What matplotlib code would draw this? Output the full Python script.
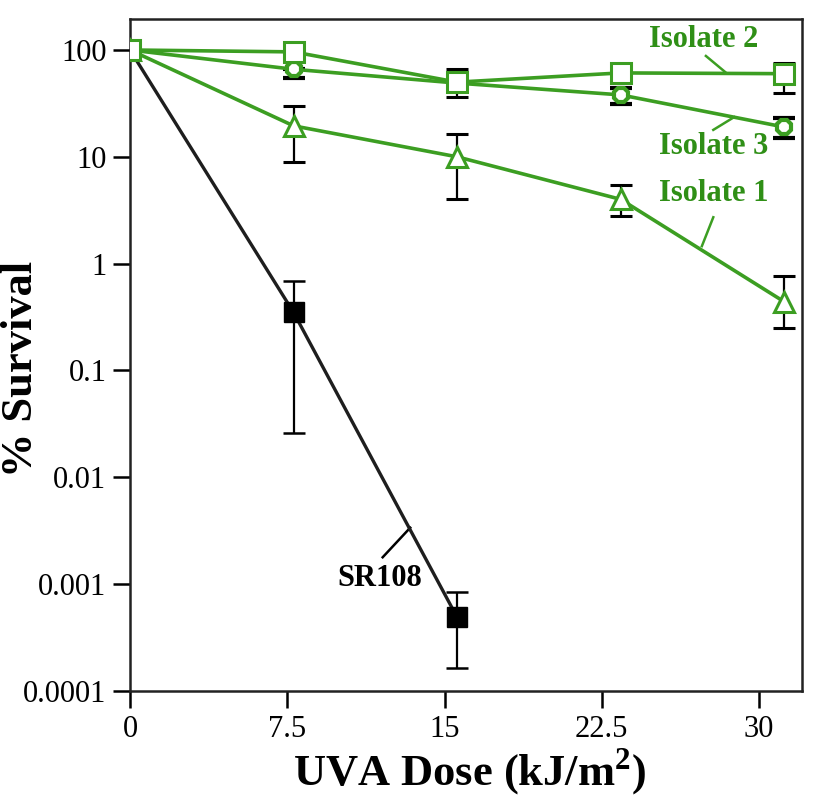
import matplotlib
matplotlib.use("Agg")
import matplotlib.pyplot as plt
from matplotlib.ticker import FixedLocator, FixedFormatter

plt.rcParams["font.family"] = ["Liberation Serif", "DejaVu Serif"]
plt.rcParams["mathtext.fontset"] = "custom"
plt.rcParams["mathtext.rm"] = "Liberation Serif"
plt.rcParams["mathtext.bf"] = "Liberation Serif:bold"

# data
dose = [0, 7.8, 15.6, 23.4, 31.2]

sr108_dose = [0, 7.8, 15.6]
sr108 = [100, 0.35, 0.00049]
sr108_hi = [100, 0.69, 0.00084]
sr108_lo = [100, 0.026, 0.000164]

iso2 = [100, 96, 50, 61, 60]
iso2_hi = [100, 96, 66, 61, 76]
iso2_lo = [100, 96, 36, 61, 40]

iso3 = [100, 66, 49, 38, 19]
iso3_hi = [100, 66, 55, 44, 23]
iso3_lo = [100, 55, 44, 31, 15]

iso1 = [100, 19.5, 10, 4.0, 0.44]
iso1_hi = [100, 30, 16.4, 5.4, 0.76]
iso1_lo = [100, 9, 4.0, 2.8, 0.25]

x_ticks = [0, 7.5, 15, 22.5, 30]
x_labels = ["0", "7.5", "15", "22.5", "30"]
y_ticks = [1e-4, 1e-3, 1e-2, 1e-1, 1, 10, 100]
y_labels = ["0.0001", "0.001", "0.01", "0.1", "1", "10", "100"]

green = "#3c9e22"
green_txt = "#2f8f16"

fig = plt.figure(figsize=(8.16, 8.02), dpi=100)
ax = fig.add_axes([130 / 816, 1 - 691 / 802, 672 / 816, 672 / 802])


def errs(y, lo, hi):
    return [[a - b for a, b in zip(y, lo)], [b - a for a, b in zip(y, hi)]]


eb_kw = dict(ecolor="black", elinewidth=1.6, capsize=8, capthick=1.8)

# SR108
ax.errorbar(sr108_dose, sr108, yerr=errs(sr108, sr108_lo, sr108_hi),
            color="#1e1e1e", lw=2.4, marker="s", ms=14, mfc="black", mec="black",
            zorder=3, **eb_kw)

# isolates
ax.errorbar(dose, iso1, yerr=errs(iso1, iso1_lo, iso1_hi), color=green, lw=2.6,
            marker="^", ms=14, mfc="white", mec=green, mew=2.2, zorder=4, **eb_kw)
ax.errorbar(dose, iso3, yerr=errs(iso3, iso3_lo, iso3_hi), color=green, lw=2.6,
            marker="8", ms=11, mfc="white", mec=green, mew=3, zorder=5, **eb_kw)
ax.errorbar(dose, iso2, yerr=errs(iso2, iso2_lo, iso2_hi), color=green, lw=2.6,
            marker="s", ms=14, mfc="white", mec=green, mew=2.2, zorder=6, **eb_kw)

ax.set_yscale("log")
ax.set_xlim(0, 32.05)
ax.set_ylim(1e-4, 195)
ax.xaxis.set_major_locator(FixedLocator(x_ticks))
ax.xaxis.set_major_formatter(FixedFormatter(x_labels))
ax.yaxis.set_major_locator(FixedLocator(y_ticks))
ax.yaxis.set_major_formatter(FixedFormatter(y_labels))
ax.yaxis.set_minor_locator(FixedLocator([]))
ax.tick_params(axis="both", direction="out", length=12, width=1.8,
               labelsize=22, pad=5, colors="black")
for s in ax.spines.values():
    s.set_linewidth(1.8)
    s.set_color("#222222")

# curve labels with leader lines (axes fraction)
labels = [
    ("Isolate 2", (0.854, 0.970), (0.857, 0.945), (0.887, 0.920), green_txt),
    ("Isolate 3", (0.869, 0.810), (0.868, 0.835), (0.899, 0.854), green_txt),
    ("Isolate 1", (0.869, 0.740), (0.868, 0.705), (0.851, 0.662), green_txt),
    ("SR108", (0.371, 0.167), (0.376, 0.199), (0.417, 0.243), "black"),
]
for txt, tpos, p0, p1, c in labels:
    ax.text(tpos[0], tpos[1], txt, transform=ax.transAxes, ha="center",
            va="center", fontsize=22, fontweight="bold", color=c)
    ax.plot([p0[0], p1[0]], [p0[1], p1[1]], transform=ax.transAxes,
            color=c if c == "black" else green, lw=1.8, clip_on=False)

fig.text(470 / 816, 1 - 772 / 802, r"UVA Dose (kJ/m$^{\mathbf{2}}$)",
         ha="center", va="center", fontsize=32, fontweight="bold")
fig.text(21 / 816, 1 - 369 / 802, "% Survival", rotation=90,
         ha="center", va="center", fontsize=32, fontweight="bold")

fig.savefig("out.png", dpi=100)
